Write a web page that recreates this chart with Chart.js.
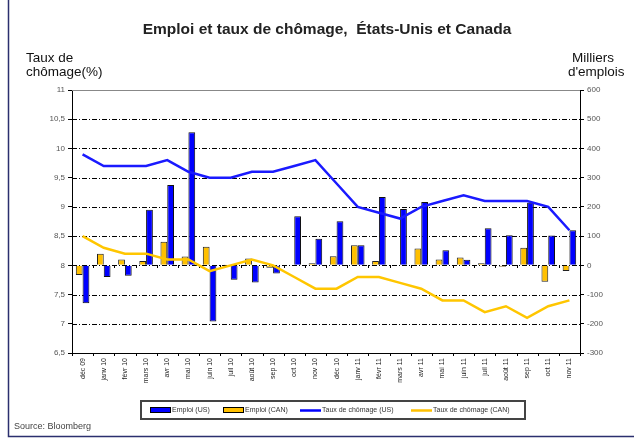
<!DOCTYPE html>
<html>
<head>
<meta charset="utf-8">
<script src="https://cdn.jsdelivr.net/npm/chart.js@4"></script>
<style>
  body { margin: 0; background: #fff; }
  canvas { display: block; }
</style>
</head>
<body>
<canvas id="chart" width="634" height="438"></canvas>
<script>
// Données
const mois = ['déc 09', 'janv 10', 'févr 10', 'mars 10', 'avr 10', 'mai 10', 'juin 10', 'juil 10',
  'août 10', 'sep 10', 'oct 10', 'nov 10', 'déc 10', 'janv 11', 'févr 11', 'mars 11', 'avr 11',
  'mai 11', 'juin 11', 'juil 11', 'août 11', 'sep 11', 'oct 11', 'nov 11'];

// Milliers d'emplois (axe de droite)
const emploiUS = [-130, -40, -36, 190, 275, 455, -192, -49, -59, -28, 168, 91,
  151, 69, 234, 193, 217, 52, 19, 127, 103, 214, 102, 120];
const emploiCAN = [-33, 40, 20, 15, 81, 30, 64, 1, 23, -8, 2, 7,
  31, 69, 15, -1, 58, 20, 27, 7, -5, 60, -56, -19];

// Taux de chômage % (axe de gauche)
const chomageUS = [9.9, 9.7, 9.7, 9.7, 9.8, 9.6, 9.5, 9.5, 9.6, 9.6, 9.7, 9.8,
  9.4, 9.0, 8.9, 8.8, 9.0, 9.1, 9.2, 9.1, 9.1, 9.1, 9.0, 8.6];
const chomageCAN = [8.5, 8.3, 8.2, 8.2, 8.1, 8.1, 7.9, 8.0, 8.1, 8.0, 7.8, 7.6,
  7.6, 7.8, 7.8, 7.7, 7.6, 7.4, 7.4, 7.2, 7.3, 7.1, 7.3, 7.4];

const titre = 'Emploi et taux de chômage,  États-Unis et Canada';

const BLEU = '#0000ff';
const JAUNE = '#ffc000';
const police = '"Liberation Sans", Arial, sans-serif';

// Quadrillage pointillé, étiquettes, légende, cadre
const decor = {
  id: 'decor',
  beforeDatasetsDraw(chart) {
    const { ctx, chartArea: a, scales } = chart;
    ctx.save();
    ctx.strokeStyle = '#000';
    ctx.lineWidth = 1;
    ctx.setLineDash([5, 2, 1, 2]);
    for (let v = 7; v < 11; v += 0.5) {
      const y = Math.round(scales.y.getPixelForValue(v)) + 0.5;
      ctx.beginPath();
      ctx.moveTo(a.left, y);
      ctx.lineTo(a.right, y);
      ctx.stroke();
    }
    ctx.setLineDash([]);
    // petites graduations sur la ligne zéro et l'axe du bas
    const w = (a.right - a.left) / mois.length;
    const y0 = Math.round(scales.y1.getPixelForValue(0));
    for (let i = 0; i <= mois.length; i++) {
      const x = Math.round(a.left + i * w) + 0.5;
      ctx.beginPath();
      ctx.moveTo(x, y0); ctx.lineTo(x, y0 + 3);
      ctx.moveTo(x, a.bottom); ctx.lineTo(x, a.bottom + 3);
      ctx.stroke();
    }
    ctx.restore();
  },
  afterDraw(chart) {
    const { ctx, chartArea: a, scales } = chart;
    ctx.save();

    // bordures du graphique
    ctx.strokeStyle = '#888';
    ctx.lineWidth = 1;
    ctx.beginPath();
    ctx.moveTo(a.left, Math.round(a.top) + 0.5);
    ctx.lineTo(a.right, Math.round(a.top) + 0.5);
    ctx.stroke();
    ctx.strokeStyle = '#000';
    ctx.beginPath();
    ctx.moveTo(a.left, Math.round(a.bottom) + 0.5);
    ctx.lineTo(a.right, Math.round(a.bottom) + 0.5);
    ctx.stroke();

    // titre
    ctx.fillStyle = '#222';
    ctx.font = 'bold 15.5px ' + police;
    ctx.textAlign = 'center';
    ctx.textBaseline = 'middle';
    ctx.fillText(titre, 327, 30);

    // titres des axes
    ctx.font = '13.5px ' + police;
    ctx.fillStyle = '#111';
    ctx.textAlign = 'left';
    ctx.fillText('Taux de', 26, 58);
    ctx.fillText('chômage(%)', 26, 72);
    ctx.fillText('Milliers', 572, 58);
    ctx.fillText("d'emplois", 568, 72);

    // étiquettes des mois, verticales
    ctx.font = '7px ' + police;
    ctx.fillStyle = '#222';
    mois.forEach((m, i) => {
      const x = scales.x.getPixelForValue(i);
      ctx.save();
      ctx.translate(x, a.bottom + 5);
      ctx.rotate(-Math.PI / 2);
      ctx.textAlign = 'right';
      ctx.textBaseline = 'middle';
      ctx.fillText(m, 0, 0);
      ctx.restore();
    });

    // source
    ctx.font = '9px ' + police;
    ctx.fillStyle = '#444';
    ctx.textAlign = 'left';
    ctx.fillText('Source: Bloomberg', 14, 427);

    // légende
    ctx.strokeStyle = '#444';
    ctx.lineWidth = 2;
    ctx.strokeRect(141, 401, 384, 18);
    const items = [
      { x: 150, type: 'bar', color: BLEU, text: 'Emploi (US)' },
      { x: 223, type: 'bar', color: JAUNE, text: 'Emploi (CAN)' },
      { x: 300, type: 'line', color: BLEU, text: 'Taux de chômage (US)' },
      { x: 411, type: 'line', color: JAUNE, text: 'Taux de chômage (CAN)' }
    ];
    ctx.font = '7px ' + police;
    ctx.textBaseline = 'middle';
    items.forEach(it => {
      if (it.type === 'bar') {
        ctx.fillStyle = it.color;
        ctx.fillRect(it.x, 408, 20, 5);
        ctx.strokeStyle = '#000';
        ctx.lineWidth = 1;
        ctx.strokeRect(it.x + 0.5, 407.5, 20, 5);
      } else {
        ctx.strokeStyle = it.color;
        ctx.lineWidth = 2.5;
        ctx.beginPath();
        ctx.moveTo(it.x, 410.5);
        ctx.lineTo(it.x + 21, 410.5);
        ctx.stroke();
      }
      ctx.fillStyle = '#333';
      ctx.fillText(it.text, it.x + 22, 410.5);
    });

    // cadre extérieur
    ctx.strokeStyle = '#2b2f6e';
    ctx.lineWidth = 1.5;
    ctx.beginPath();
    ctx.moveTo(8.5, 0);
    ctx.lineTo(8.5, 436.5);
    ctx.lineTo(634, 436.5);
    ctx.stroke();

    ctx.restore();
  }
};

new Chart(document.getElementById('chart'), {
  type: 'bar',
  data: {
    labels: mois,
    datasets: [
      {
        type: 'line', label: 'Taux de chômage (US)', data: chomageUS, yAxisID: 'y',
        borderColor: '#1a1aff', borderWidth: 2.5, pointRadius: 0, tension: 0, order: 0
      },
      {
        type: 'line', label: 'Taux de chômage (CAN)', data: chomageCAN, yAxisID: 'y',
        borderColor: '#ffc600', borderWidth: 2.5, pointRadius: 0, tension: 0, order: 0
      },
      {
        label: 'Emploi (CAN)', data: emploiCAN, yAxisID: 'y1', order: 1,
        backgroundColor: JAUNE, borderColor: '#222', borderWidth: 1,
        categoryPercentage: 0.64, barPercentage: 1
      },
      {
        label: 'Emploi (US)', data: emploiUS, yAxisID: 'y1', order: 1,
        backgroundColor: BLEU, borderColor: '#111', borderWidth: 1,
        categoryPercentage: 0.64, barPercentage: 1
      }
    ]
  },
  options: {
    responsive: false,
    animation: false,
    layout: { padding: { top: 90, bottom: 85, left: 10, right: 4 } },
    plugins: { legend: { display: false }, title: { display: false }, tooltip: { enabled: false } },
    scales: {
      x: { display: false },
      y: {
        position: 'left', min: 6.5, max: 11,
        ticks: {
          stepSize: 0.5, color: '#555', font: { size: 8, family: police },
          callback: v => String(v).replace('.', ',')
        },
        grid: { drawOnChartArea: false, drawTicks: true, tickLength: 4, color: '#000' },
        border: { display: true, color: '#000', width: 1 },
        afterFit: s => { s.width = 62; }
      },
      y1: {
        position: 'right', min: -300, max: 600,
        ticks: { stepSize: 100, color: '#555', font: { size: 8, family: police } },
        grid: { drawOnChartArea: false, drawTicks: true, tickLength: 4, color: '#000' },
        border: { display: true, color: '#000', width: 1 },
        afterFit: s => { s.width = 50; }
      }
    }
  },
  plugins: [decor]
});
</script>
</body>
</html>
